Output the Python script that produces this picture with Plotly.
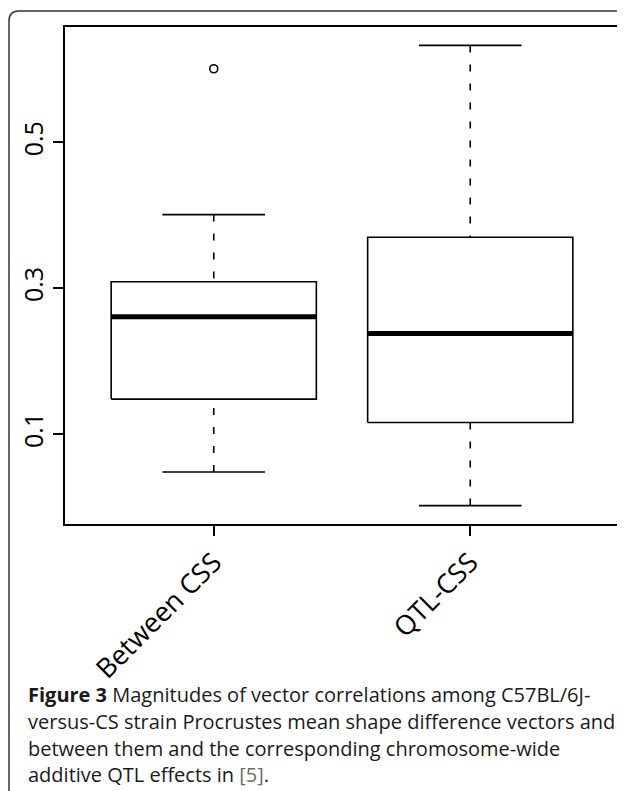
import plotly.graph_objects as go

# ---- data ----
categories = ["Between CSS", "QTL-CSS"]
lower_whisker = [0.048, 0.002]
q1_values = [0.148, 0.116]
median_values = [0.261, 0.238]
q3_values = [0.309, 0.370]
upper_whisker = [0.401, 0.633]
outliers = [[0.601], []]
y_tick_values = [0.1, 0.3, 0.5]
y_tick_labels = ["0.1", "0.3", "0.5"]
caption_lines = [
    "<b>Figure 3</b> Magnitudes of vector correlations among C57BL/6J-",
    "versus-CS strain Procrustes mean shape difference vectors and",
    "between them and the corresponding chromosome-wide",
    "additive QTL effects in <span style='color:#6b6b6b'>[5]</span>.",
]

# ---- style / layout constants ----
OFF = 8                      # page body margin of the html page
SCREEN_W, SCREEN_H = 625, 791
W, H = SCREEN_W - OFF, SCREEN_H - OFF
# plot area in screen pixels: x 65..619, y 27..524
L, T = 65 - OFF, 27 - OFF
R = W - (619 - OFF)
B = H - (524 - OFF)
BOXWEX = 0.8
STAPLE = 0.5
FONT = "Open Sans"

plot_w = W - L - R
plot_h = H - T - B


def px_to_paper(px, py):
    """screen pixel -> paper coordinates"""
    fx, fy = px - OFF, py - OFF
    return (fx - L) / plot_w, (H - B - fy) / plot_h


fig = go.Figure()
positions = list(range(1, len(categories) + 1))

for i, c in enumerate(positions):
    hw = BOXWEX / 2
    sw = BOXWEX * STAPLE / 2
    # whiskers (dashed)
    fig.add_trace(go.Scatter(x=[c, c], y=[upper_whisker[i], q3_values[i]], mode="lines",
                             line=dict(color="black", width=1.6, dash="7px,12px"),
                             showlegend=False, hoverinfo="skip"))
    fig.add_trace(go.Scatter(x=[c, c], y=[lower_whisker[i], q1_values[i]], mode="lines",
                             line=dict(color="black", width=1.6, dash="7px,12px"),
                             showlegend=False, hoverinfo="skip"))
    # staples
    for v in (upper_whisker[i], lower_whisker[i]):
        fig.add_trace(go.Scatter(x=[c - sw, c + sw], y=[v, v], mode="lines",
                                 line=dict(color="black", width=1.6),
                                 showlegend=False, hoverinfo="skip"))
    # box
    fig.add_trace(go.Scatter(x=[c - hw, c + hw, c + hw, c - hw, c - hw],
                             y=[q1_values[i], q1_values[i], q3_values[i], q3_values[i], q1_values[i]],
                             mode="lines", fill="toself", fillcolor="white",
                             line=dict(color="black", width=1.6),
                             showlegend=False, hoverinfo="skip"))
    # median
    fig.add_trace(go.Scatter(x=[c - hw, c + hw], y=[median_values[i], median_values[i]], mode="lines",
                             line=dict(color="black", width=5),
                             showlegend=False, hoverinfo="skip"))
    # outliers
    if outliers[i]:
        fig.add_trace(go.Scatter(x=[c] * len(outliers[i]), y=outliers[i], mode="markers",
                                 marker=dict(symbol="circle-open", size=8, color="black",
                                             line=dict(width=1.6, color="black")),
                                 showlegend=False, hoverinfo="skip"))

all_vals = lower_whisker + upper_whisker + [v for o in outliers for v in o]
ymin, ymax = min(all_vals), max(all_vals)
pad = 0.04 * (ymax - ymin)
xpad = 0.04 * len(categories)

fig.update_xaxes(range=[0.5 - xpad, len(categories) + 0.5 + xpad],
                 tickvals=positions, ticktext=categories, tickangle=-45,
                 showline=True, mirror=True, linecolor="black", linewidth=1.6,
                 ticks="outside", ticklen=10, tickwidth=1.6, tickcolor="black",
                 showgrid=False, zeroline=False,
                 tickfont=dict(family=FONT, size=27, color="black"))
fig.update_yaxes(range=[ymin - pad, ymax + pad],
                 tickvals=y_tick_values, ticktext=y_tick_labels, tickangle=-90,
                 showline=True, mirror=True, linecolor="black", linewidth=1.6,
                 ticks="outside", ticklen=10, tickwidth=1.6, tickcolor="black",
                 showgrid=False, zeroline=False,
                 tickfont=dict(family=FONT, size=25, color="black"))

# outer rounded frame (top-left corner visible)
x0, y0 = px_to_paper(9, 11)
xr, _ = px_to_paper(9 + 10, 11)
_, yr = px_to_paper(9, 11 + 10)
xe, _ = px_to_paper(SCREEN_W + 20, 11)
_, ye = px_to_paper(9, SCREEN_H + 20)
fig.add_shape(type="path", xref="paper", yref="paper",
              path=f"M {x0} {ye} L {x0} {yr} Q {x0} {y0} {xr} {y0} L {xe} {y0}",
              line=dict(color="#333333", width=1.5))

# caption
baselines = [701, 728, 755, 781]
for text, bl in zip(caption_lines, baselines):
    ax, ay = px_to_paper(26, bl)
    fig.add_annotation(text=text, xref="paper", yref="paper", x=ax, y=ay,
                       xanchor="left", yanchor="middle", yshift=7, showarrow=False,
                       font=dict(family=FONT, size=20, color="#1a1a1a"), align="left")

fig.update_layout(width=W, height=H, margin=dict(l=L, r=R, t=T, b=B, autoexpand=False),
                  paper_bgcolor="white", plot_bgcolor="white")

fig.write_html("out.html")
